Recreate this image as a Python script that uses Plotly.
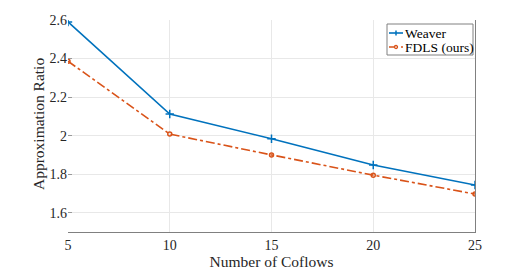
import plotly.graph_objects as go

coflows = [5, 10, 15, 20, 25]
weaver = [2.59, 2.112, 1.984, 1.848, 1.744]
fdls = [2.386, 2.008, 1.900, 1.795, 1.697]
x_ticks = [5, 10, 15, 20, 25]
y_ticks = [1.6, 1.8, 2.0, 2.2, 2.4, 2.6]
y_tick_text = ["1.6", "1.8", "2", "2.2", "2.4", "2.6"]
series_names = ["Weaver", "FDLS (ours)"]
x_title = "Number of Coflows"
y_title = "Approximation Ratio"

FONT = "Liberation Serif, serif"
BLUE = "#0072BD"
ORANGE = "#D95319"
TXT = "#262626"

# page body has an 8px margin, so the figure is drawn at (8, 8)
OFF = 8
W, H = 526 - OFF, 271 - OFF
L, T = 68 - OFF, 20 - OFF
R = W - (475 - OFF)
B = H - (232 - OFF)
PW, PH = W - L - R, H - T - B


def px(x):
    return (x - OFF - L) / PW


def py(y):
    return (H - B - (y - OFF)) / PH


fig = go.Figure()
fig.add_trace(go.Scatter(
    x=coflows, y=weaver, name=series_names[0], mode="lines+markers",
    line=dict(color=BLUE, width=1.6),
    marker=dict(symbol="cross-thin", size=6, line=dict(color=BLUE, width=1.5)),
    showlegend=False,
))
fig.add_trace(go.Scatter(
    x=coflows, y=fdls, name=series_names[1], mode="lines+markers",
    line=dict(color=ORANGE, width=1.6, dash="dashdot"),
    marker=dict(symbol="circle-open", size=4, color=ORANGE, line=dict(width=1.5)),
    showlegend=False,
))
fig.add_trace(go.Scatter(x=[], y=[], yaxis="y2", showlegend=False))

# manual MATLAB-like legend
shapes = [
    dict(type="rect", xref="paper", yref="paper",
         x0=px(387), x1=px(473), y0=py(55), y1=py(24),
         line=dict(color="#808080", width=1), fillcolor="white", layer="above"),
    dict(type="line", xref="paper", yref="paper", x0=px(389), x1=px(403), y0=py(33), y1=py(33),
         line=dict(color=BLUE, width=1.6), layer="above"),
    dict(type="line", xref="paper", yref="paper", x0=px(396), x1=px(396), y0=py(30.5), y1=py(35.5),
         line=dict(color=BLUE, width=1.5), layer="above"),
    dict(type="line", xref="paper", yref="paper", x0=px(389), x1=px(403), y0=py(47), y1=py(47),
         line=dict(color=ORANGE, width=1.6, dash="dashdot"), layer="above"),
    dict(type="circle", xref="paper", yref="paper", x0=px(394.5), x1=px(397.5), y0=py(48.5), y1=py(45.5),
         line=dict(color=ORANGE, width=1.3), fillcolor="white", layer="above"),
]
annotations = [
    dict(text=series_names[0], xref="paper", yref="paper", x=px(403), y=py(33),
         xanchor="left", yanchor="middle", showarrow=False,
         font=dict(family=FONT, size=13.5, color="#000")),
    dict(text=series_names[1], xref="paper", yref="paper", x=px(403), y=py(47),
         xanchor="left", yanchor="middle", showarrow=False,
         font=dict(family=FONT, size=13.5, color="#000")),
    dict(text=y_title, xref="paper", yref="paper", x=px(38), y=py(124),
         xanchor="center", yanchor="middle", textangle=-90, showarrow=False,
         font=dict(family=FONT, size=15.5, color=TXT)),
]

fig.update_layout(
    width=W, height=H,
    margin=dict(l=L, r=R, t=T, b=B, autoexpand=False),
    paper_bgcolor="white", plot_bgcolor="white",
    font=dict(family=FONT, size=14, color=TXT),
    showlegend=False,
    shapes=shapes, annotations=annotations,
    xaxis=dict(
        range=[5, 25], tickvals=x_ticks, ticktext=[str(v) for v in x_ticks],
        tickfont=dict(family=FONT, size=14, color=TXT),
        showgrid=True, gridcolor="#e8e8e8", gridwidth=1,
        showline=True, linecolor="#808080", linewidth=1, mirror=False,
        ticks="", zeroline=False, automargin=False,
        title=dict(text=x_title, font=dict(family=FONT, size=15.5, color=TXT), standoff=2),
    ),
    yaxis=dict(
        range=[1.5, 2.6], tickvals=y_ticks, ticktext=y_tick_text,
        tickfont=dict(family=FONT, size=14, color=TXT),
        showgrid=True, gridcolor="#e8e8e8", gridwidth=1,
        showline=False, ticks="inside", ticklen=4, tickcolor="#999999",
        zeroline=False, automargin=False,
    ),
    yaxis2=dict(overlaying="y", side="right", range=[1.5, 2.6], showticklabels=False,
                showline=True, linecolor="#808080", linewidth=1, showgrid=False, ticks="",
                automargin=False),
)
fig.write_html("out.html")
